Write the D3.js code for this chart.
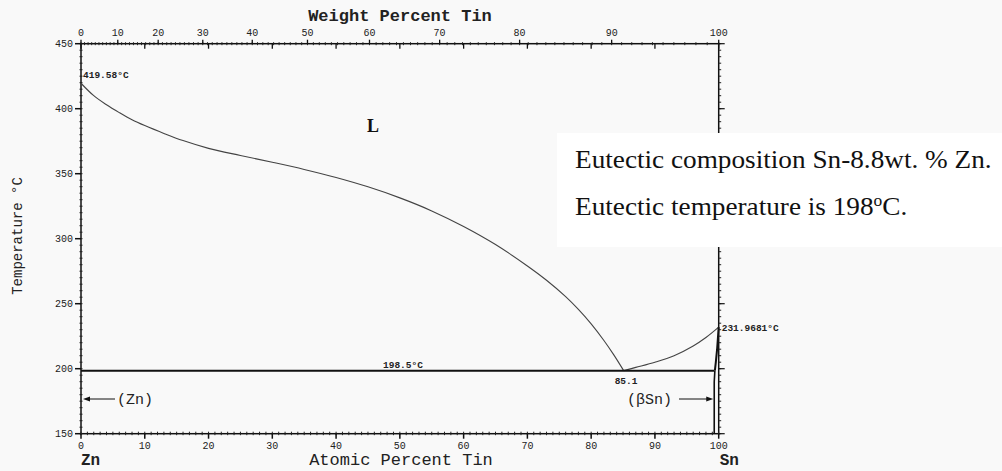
<!DOCTYPE html>
<html>
<head>
<meta charset="utf-8">
<script src="https://cdn.jsdelivr.net/npm/d3@7"></script>
<style>
  html, body { margin: 0; padding: 0; background: #f9f9f9; }
  svg { display: block; }
  .mono { font-family: "Liberation Mono", "DejaVu Sans Mono", monospace; fill: #222; }
  .serif { font-family: "Liberation Serif", "DejaVu Serif", serif; fill: #111; }
</style>
</head>
<body>
<div id="chart"></div>
<script>
// liquidus, Zn side down to the eutectic (atomic % Sn, temperature in C)
const liqZnAt = [0, 2, 4, 6, 8, 10, 13, 16, 20, 25, 30, 35, 40, 45, 50, 55, 60, 65, 70, 73, 76, 78, 80, 82, 83.5, 85.1];
const liqZnT  = [419.58, 410, 403, 397, 391.5, 387, 381, 375.5, 369.5, 364, 358.8, 353.3, 347.1, 339.9, 331.4, 321.4, 309.4, 295.5, 279, 268, 255.4, 245.6, 234.5, 221.7, 211, 198.5];
// liquidus, Sn side
const liqSnAt = [85.1, 87, 90, 93, 96, 98, 100];
const liqSnT  = [198.5, 201, 205, 210, 217.5, 224, 231.97];
// (βSn) solidus and solvus close to pure Sn
const solidusAt = [100, 99.75, 99.55, 99.4];
const solidusT  = [231.97, 215, 205, 198.5];
const solvusAt  = [99.4, 99.3, 99.3];
const solvusT   = [198.5, 190, 150];
const eutecticT = 198.5;
const eutecticAt = [0, 99.3];

const tempTicks = [150, 200, 250, 300, 350, 400, 450];
const atomicTicks = [0, 10, 20, 30, 40, 50, 60, 70, 80, 90, 100];
const weightTicks = [0, 10, 20, 30, 40, 50, 60, 70, 80, 90, 100];
const massZn = 65.38, massSn = 118.71;

const W = 1002, H = 471;
const svg = d3.select("#chart").append("svg")
    .attr("width", W).attr("height", H);

const x = d3.scaleLinear().domain([0, 100]).range([81, 718.7]);
const y = d3.scaleLinear().domain([150, 450]).range([433.7, 43.7]);

// weight % Sn -> atomic % Sn, to place the top axis
const wtToAt = w => {
    const sn = w / massSn, zn = (100 - w) / massZn;
    return 100 * sn / (sn + zn);
};

const g = svg.append("g");

// frame
g.append("rect")
    .attr("x", x(0)).attr("y", y(450))
    .attr("width", x(100) - x(0)).attr("height", y(150) - y(450))
    .attr("fill", "none").attr("stroke", "#111").attr("stroke-width", 1.5);

// left axis
const minorT = d3.range(150, 451, 5);
g.selectAll(".ltm").data(minorT).join("line")
    .attr("x1", x(0) - 1.5).attr("x2", x(0) + 1.5)
    .attr("y1", d => y(d)).attr("y2", d => y(d))
    .attr("stroke", "#222").attr("stroke-width", 1);
g.selectAll(".ltM").data(tempTicks).join("line")
    .attr("x1", x(0) - 6).attr("x2", x(0))
    .attr("y1", d => y(d)).attr("y2", d => y(d))
    .attr("stroke", "#111").attr("stroke-width", 1.5);
g.selectAll(".ltl").data(tempTicks).join("text")
    .attr("class", "mono")
    .attr("x", x(0) - 8).attr("y", d => y(d) + 3.5)
    .attr("text-anchor", "end").attr("font-size", 10)
    .text(d => d);

// right axis
g.selectAll(".rtm").data(minorT).join("line")
    .attr("x1", x(100)).attr("x2", x(100) + 2.5)
    .attr("y1", d => y(d)).attr("y2", d => y(d))
    .attr("stroke", "#222").attr("stroke-width", 1);
g.selectAll(".rtM").data(tempTicks).join("line")
    .attr("x1", x(100)).attr("x2", x(100) + 6)
    .attr("y1", d => y(d)).attr("y2", d => y(d))
    .attr("stroke", "#111").attr("stroke-width", 1.2);

// bottom axis (atomic %)
const minorA = d3.range(0, 101, 1);
g.selectAll(".btm").data(minorA).join("line")
    .attr("x1", d => x(d)).attr("x2", d => x(d))
    .attr("y1", y(150) - 2).attr("y2", y(150) + 1.5)
    .attr("stroke", "#222").attr("stroke-width", 1);
g.selectAll(".btM").data(atomicTicks).join("line")
    .attr("x1", d => x(d)).attr("x2", d => x(d))
    .attr("y1", y(150)).attr("y2", y(150) + 5)
    .attr("stroke", "#111").attr("stroke-width", 1.5);
g.selectAll(".btl").data(atomicTicks).join("text")
    .attr("class", "mono")
    .attr("x", d => x(d)).attr("y", y(150) + 15)
    .attr("text-anchor", "middle").attr("font-size", 10)
    .text(d => d);

// top axis: weight % labels, atomic majors mirrored inward
g.selectAll(".ttm").data(d3.range(0, 101, 1)).join("line")
    .attr("x1", d => x(wtToAt(d))).attr("x2", d => x(wtToAt(d)))
    .attr("y1", y(450) - 1.5).attr("y2", y(450) + 1.5)
    .attr("stroke", "#222").attr("stroke-width", 1);
g.selectAll(".ttM").data(weightTicks).join("line")
    .attr("x1", d => x(wtToAt(d))).attr("x2", d => x(wtToAt(d)))
    .attr("y1", y(450) - 4).attr("y2", y(450))
    .attr("stroke", "#111").attr("stroke-width", 1.3);
g.selectAll(".ttA").data(atomicTicks).join("line")
    .attr("x1", d => x(d)).attr("x2", d => x(d))
    .attr("y1", y(450)).attr("y2", y(450) + 5)
    .attr("stroke", "#111").attr("stroke-width", 1.3);
g.selectAll(".ttl").data(weightTicks).join("text")
    .attr("class", "mono")
    .attr("x", d => x(wtToAt(d))).attr("y", y(450) - 8)
    .attr("text-anchor", "middle").attr("font-size", 10)
    .text(d => d);

// axis titles
svg.append("text").attr("class", "mono")
    .attr("x", 400).attr("y", 21).attr("text-anchor", "middle")
    .attr("font-size", 17).attr("font-weight", "bold")
    .text("Weight Percent Tin");
svg.append("text").attr("class", "mono")
    .attr("x", 401).attr("y", 465).attr("text-anchor", "middle")
    .attr("font-size", 17)
    .text("Atomic Percent Tin");
svg.append("text").attr("class", "mono")
    .attr("transform", "translate(22,236) rotate(-90)")
    .attr("text-anchor", "middle").attr("font-size", 14)
    .text("Temperature °C");
svg.append("text").attr("class", "mono")
    .attr("x", x(0)).attr("y", 465).attr("font-size", 16).attr("font-weight", "bold")
    .text("Zn");
svg.append("text").attr("class", "mono")
    .attr("x", x(100) + 1).attr("y", 465).attr("font-size", 16).attr("font-weight", "bold")
    .text("Sn");

// phase lines
const line = (ax, ty) => d3.line()
    .x(i => x(ax[i])).y(i => y(ty[i]))
    .curve(d3.curveCatmullRom.alpha(0.5))(d3.range(ax.length));

g.append("path").attr("d", line(liqZnAt, liqZnT))
    .attr("fill", "none").attr("stroke", "#444").attr("stroke-width", 1.1);
g.append("path").attr("d", line(liqSnAt, liqSnT))
    .attr("fill", "none").attr("stroke", "#444").attr("stroke-width", 1.1);
g.append("path").attr("d", d3.line().x(i => x(solidusAt[i])).y(i => y(solidusT[i]))(d3.range(solidusAt.length)))
    .attr("fill", "none").attr("stroke", "#111").attr("stroke-width", 2);
g.append("path").attr("d", d3.line().x(i => x(solvusAt[i])).y(i => y(solvusT[i]))(d3.range(solvusAt.length)))
    .attr("fill", "none").attr("stroke", "#111").attr("stroke-width", 1.6);
g.append("line")
    .attr("x1", x(eutecticAt[0])).attr("x2", x(eutecticAt[1]))
    .attr("y1", y(eutecticT)).attr("y2", y(eutecticT))
    .attr("stroke", "#111").attr("stroke-width", 2);

// annotations
const small = (tx, ty, s) => g.append("text").attr("class", "mono")
    .attr("x", tx).attr("y", ty).attr("font-size", 9.5).attr("font-weight", "bold").text(s);
small(x(0) + 2, y(419.58) - 5, "419.58°C");
small(383, y(eutecticT) - 3, "198.5°C");
small(x(85.1) - 9, y(eutecticT) + 13, "85.1");
small(x(100) + 3, y(231.97) + 4, "231.9681°C");

g.append("text").attr("class", "serif")
    .attr("x", 367).attr("y", 132).attr("font-size", 18).attr("font-weight", "bold")
    .text("L");

// phase region labels with arrows
const arrowY = 399;
g.append("line").attr("x1", 115).attr("x2", x(0) + 6)
    .attr("y1", arrowY).attr("y2", arrowY).attr("stroke", "#111").attr("stroke-width", 1);
g.append("path").attr("d", `M${x(0) + 2},${arrowY} l7,-2.5 v5 z`).attr("fill", "#111");
g.append("text").attr("class", "mono")
    .attr("x", 117).attr("y", arrowY + 5).attr("font-size", 15)
    .text("(Zn)");

g.append("line").attr("x1", 679).attr("x2", x(99.3) - 4)
    .attr("y1", arrowY).attr("y2", arrowY).attr("stroke", "#111").attr("stroke-width", 1);
g.append("path").attr("d", `M${x(99.3) - 1},${arrowY} l-7,-2.5 v5 z`).attr("fill", "#111");
g.append("text").attr("class", "mono")
    .attr("x", 627).attr("y", arrowY + 5).attr("font-size", 15)
    .text("(βSn)");

// overlaid note box (text in the source is slightly stretched sideways)
svg.append("rect").attr("x", 557).attr("y", 133).attr("width", 445).attr("height", 114)
    .attr("fill", "#fff");
svg.append("text").attr("class", "serif")
    .attr("transform", "translate(575,168) scale(1.09,1)")
    .attr("font-size", 25)
    .text("Eutectic composition Sn-8.8wt. % Zn.");
const t2 = svg.append("text").attr("class", "serif")
    .attr("transform", "translate(575,215) scale(1.09,1)")
    .attr("font-size", 25);
t2.append("tspan").text("Eutectic temperature is 198");
t2.append("tspan").attr("dy", -9).attr("font-size", 16).text("o");
t2.append("tspan").attr("dy", 9).text("C.");
</script>
</body>
</html>
